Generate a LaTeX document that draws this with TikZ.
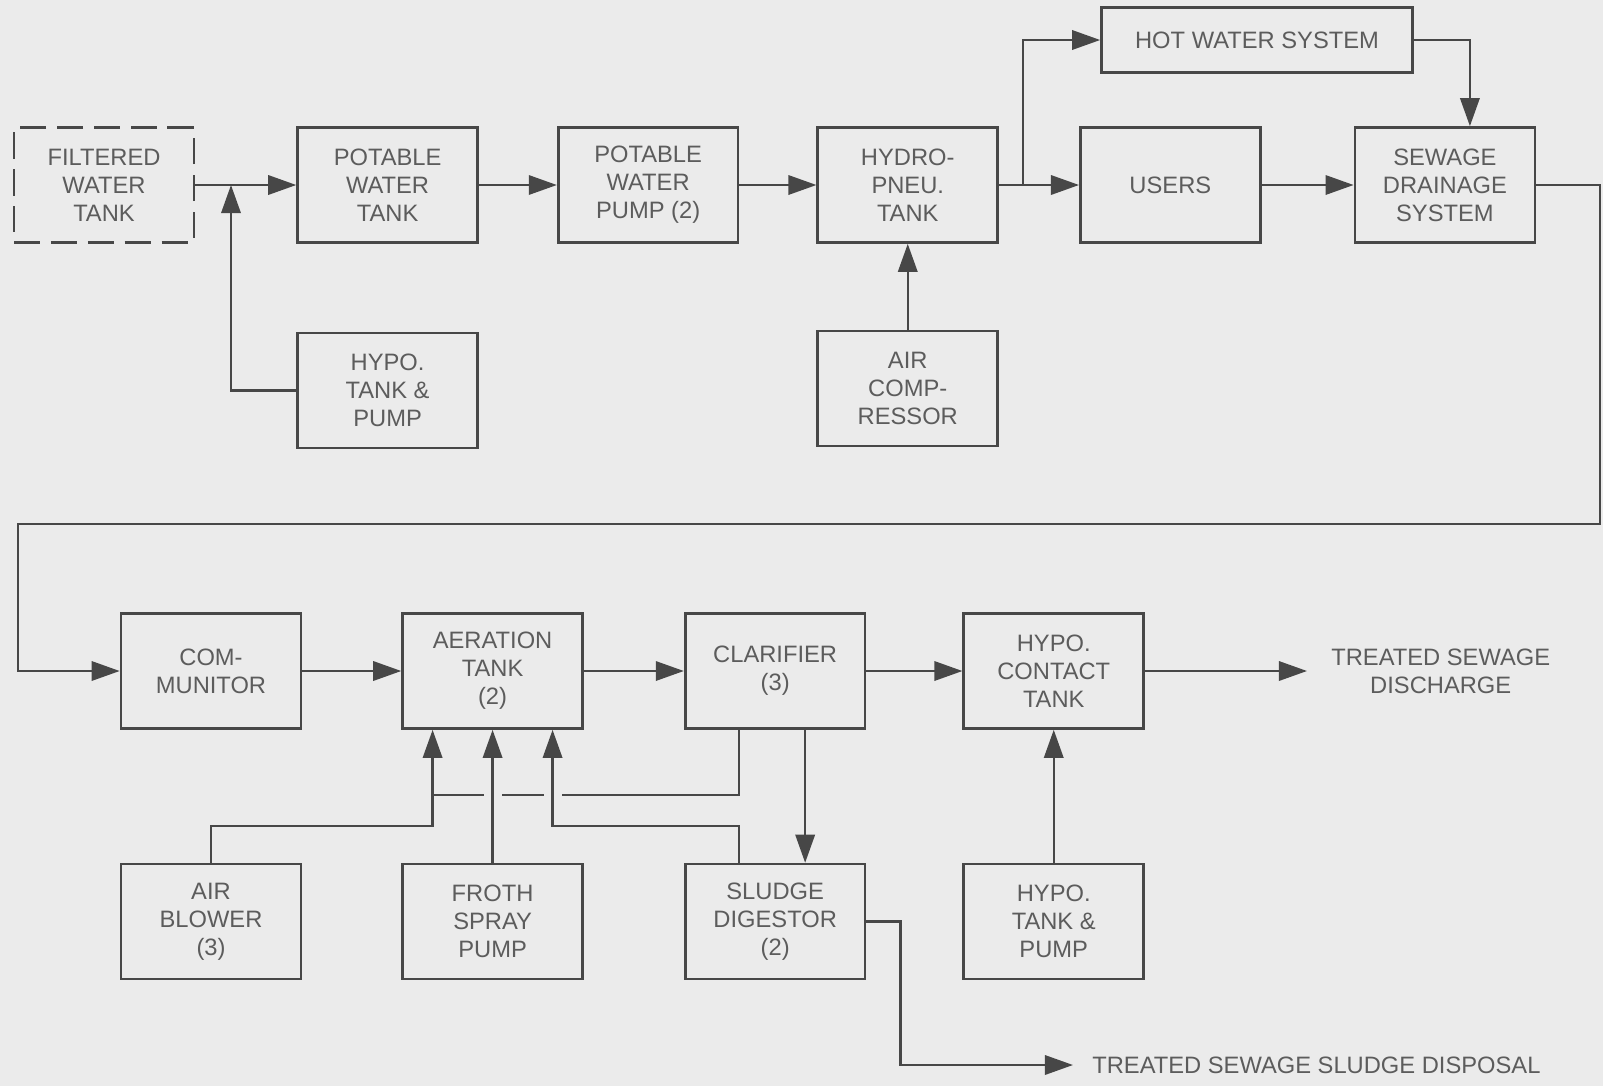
\documentclass[tikz,border=0pt]{standalone}
\usepackage{fontspec}
\setmainfont{Liberation Sans}
\usepackage{tikz}
\usetikzlibrary{arrows.meta, positioning, calc}
\usepackage{xcolor}
\definecolor{paper}{HTML}{EBEBEB}
\definecolor{linegray}{HTML}{474747}
\definecolor{textgray}{HTML}{5C5C5C}

\begin{document}
\begin{tikzpicture}[
  x=0.02cm, y=-0.02cm,
  font=\fontsize{13.5}{16}\selectfont,
  unit/.style={draw=linegray, line width=1.5pt, minimum width=3.6cm,
               minimum height=2.3cm, align=center, text=textgray},
  supply/.style={unit, dash pattern=on 15pt off 6pt},
  outlet/.style={text=textgray, align=center, inner xsep=0pt},
  pipe/.style={draw=linegray, line width=1.4pt},
  arr/.style={pipe, -{Triangle[length=16pt, width=11pt]}}
]
  \fill[paper] (0,0) rectangle (1603,1086);

  % water supply side
  \node[supply] (filt) at (104,185) {FILTERED\\WATER\\TANK};
  \node[unit, right=2.02cm of filt] (ptank) {POTABLE\\WATER\\TANK};
  \node[unit, right=1.56cm of ptank] (ppump) {POTABLE\\WATER\\PUMP (2)};
  \node[unit, right=1.54cm of ppump] (hydro) {HYDRO-\\PNEU.\\TANK};
  \node[unit, right=1.6cm of hydro] (users) {USERS};
  \node[unit, right=1.84cm of users] (sewage) {SEWAGE\\DRAINAGE\\SYSTEM};
  \node[unit, minimum width=6.22cm, minimum height=1.3cm] (hot) at (1257,40)
    {HOT WATER SYSTEM};
  \node[unit, below=1.76cm of ptank] (hypoA) {HYPO.\\TANK \&\\PUMP};
  \node[unit, below=1.72cm of hydro] (aircomp) {AIR\\COMP-\\RESSOR};

  % sewage treatment side
  \node[unit] (comm) at (211,671) {COM-\\MUNITOR};
  \node[unit, right=1.98cm of comm] (aer) {AERATION\\TANK\\(2)};
  \node[unit, right=2.0cm of aer] (clar) {CLARIFIER\\(3)};
  \node[unit, right=1.92cm of clar] (hcon) {HYPO.\\CONTACT\\TANK};
  \node[unit, below=2.66cm of comm] (blower) {AIR\\BLOWER\\(3)};
  \node[unit, below=2.66cm of aer] (froth) {FROTH\\SPRAY\\PUMP};
  \node[unit, below=2.66cm of clar] (sludge) {SLUDGE\\DIGESTOR\\(2)};
  \node[unit, below=2.66cm of hcon] (hypoB) {HYPO.\\TANK \&\\PUMP};
  \node[outlet, right=3.72cm of hcon] (dis) {TREATED SEWAGE\\DISCHARGE};
  \node[outlet, anchor=west] (disp) at (1092,1065)
    {TREATED SEWAGE SLUDGE DISPOSAL};

  \coordinate (jn) at (231,185);
  \coordinate (rt) at (1600,524);
  \coordinate (lf) at (18,524);
  \coordinate (a1) at ([xshift=-1.2cm]aer.south);
  \coordinate (a3) at ([xshift=1.2cm]aer.south);

  \draw[arr] (filt) -- (ptank);
  \draw[arr] (hypoA.west) -| (jn);
  \draw[arr] (ptank) -- (ppump);
  \draw[arr] (ppump) -- (hydro);
  \draw[arr] (hydro) -- (users);
  \draw[arr] (hydro.east) -- ++(24,0) |- (hot.west);
  \draw[arr] (users) -- (sewage);
  \draw[arr] (hot.east) -| ([xshift=0.5cm]sewage.north);
  \draw[arr] (aircomp) -- (hydro);
  \draw[arr] (sewage.east) -| (rt) -- (lf) |- (comm.west);

  \draw[arr] (comm) -- (aer);
  \draw[arr] (aer) -- (clar);
  \draw[arr] (clar) -- (hcon);
  \draw[arr, shorten >=0.48cm] (hcon) -- (dis);
  \draw[arr] (hypoB) -- (hcon);
  \draw[arr] ([xshift=0.6cm]clar.south) -- ([xshift=0.6cm]sludge.north);
  \draw[arr, shorten >=0.38cm] (sludge.east) -- ++(34,0) |- (disp.west);

  % return line, broken where it crosses
  \draw[pipe] ([xshift=-0.72cm]clar.south) -- ++(0,65) coordinate (rc)
    -- (a1 |- rc);
  \fill[paper] (froth.north |- rc) ++(-9,-4) rectangle ++(18,8);
  \fill[paper] (a3 |- rc) ++(-9,-4) rectangle ++(18,8);
  \draw[arr] (blower.north) -- ++(0,-37) -| (a1);
  \draw[arr] (froth) -- (aer);
  \draw[arr] ([xshift=-0.72cm]sludge.north) -- ++(0,-37) -| (a3);
\end{tikzpicture}
\end{document}
